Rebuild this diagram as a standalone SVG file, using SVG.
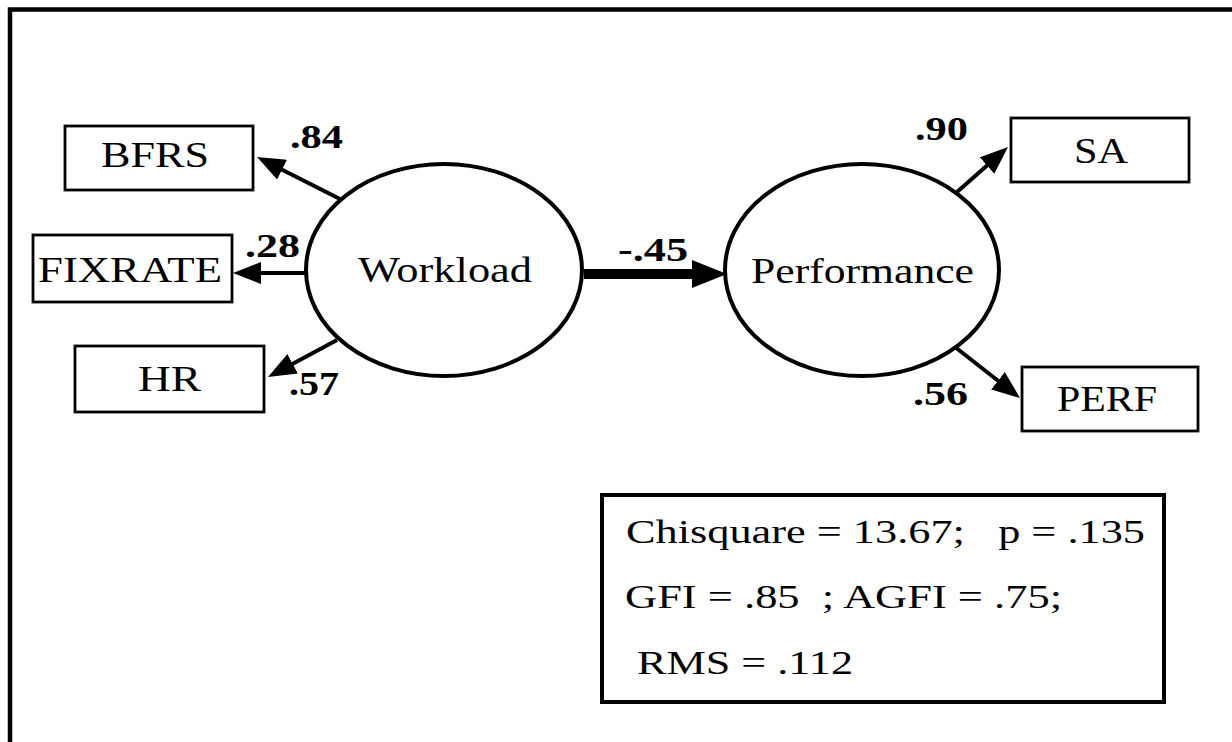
<svg xmlns="http://www.w3.org/2000/svg" width="1232" height="742" viewBox="0 0 1232 742">
<style>
  .bg{fill:#ffffff}
  .frame{fill:none;stroke:#000;stroke-width:4.5}
  .box{fill:#fff;stroke:#000;stroke-width:2.8}
  .stat{fill:#fff;stroke:#000;stroke-width:4}
  .lat{fill:#fff;stroke:#000;stroke-width:4}
  .t{font-family:"Liberation Serif","Times New Roman",serif;font-size:35px;fill:#000;white-space:pre}
  .w{font-family:"Liberation Serif","Times New Roman",serif;font-size:34px;font-weight:bold;fill:#000}
  .s{font-family:"Liberation Serif","Times New Roman",serif;font-size:34px;fill:#000;white-space:pre}
  .edge{stroke:#000;stroke-width:4;fill:none;marker-end:url(#ah)}
  .main{stroke:#000;stroke-width:10;fill:none;marker-end:url(#ahBig)}
</style>
<defs>
  <marker id="ah" markerUnits="userSpaceOnUse" markerWidth="28" markerHeight="22" refX="22" refY="11" orient="auto">
    <path d="M0,0 L28,11 L0,22 z" fill="#000"/>
  </marker>
  <marker id="ahBig" markerUnits="userSpaceOnUse" markerWidth="35" markerHeight="28" refX="21" refY="14" orient="auto">
    <path d="M0,0 L35,14 L0,28 z" fill="#000"/>
  </marker>
</defs>
<rect class="bg" x="0" y="0" width="1232" height="742"/>
<path class="frame" d="M10,742 V9.5 H1232"/>

<g id="connectors">
  <line class="edge" x1="340" y1="199" x2="262.4" y2="159.7"/>
  <line class="edge" x1="308" y1="273" x2="239" y2="273"/>
  <line class="edge" x1="337" y1="340" x2="273.3" y2="374.2"/>
  <line class="main" x1="584" y1="274" x2="713" y2="274"/>
  <line class="edge" x1="957" y1="192" x2="1003.5" y2="151"/>
  <line class="edge" x1="955" y1="347" x2="1015.3" y2="394.3"/>
  <text class="w" x="290" y="148" textLength="53" lengthAdjust="spacingAndGlyphs">.84</text>
  <text class="w" x="245" y="257" textLength="55" lengthAdjust="spacingAndGlyphs">.28</text>
  <text class="w" x="289" y="395" textLength="50" lengthAdjust="spacingAndGlyphs">.57</text>
  <text class="w" x="618" y="261" textLength="70" lengthAdjust="spacingAndGlyphs">-.45</text>
  <text class="w" x="915" y="140" textLength="53" lengthAdjust="spacingAndGlyphs">.90</text>
  <text class="w" x="913" y="405" textLength="55" lengthAdjust="spacingAndGlyphs">.56</text>
</g>

<g id="node-bfrs">
  <rect class="box" x="65" y="126" width="188" height="64"/>
  <text class="t" x="101" y="167" textLength="108" lengthAdjust="spacingAndGlyphs">BFRS</text>
</g>
<g id="node-fixrate">
  <rect class="box" x="33" y="235" width="199" height="67"/>
  <text class="t" x="38" y="282" textLength="184" lengthAdjust="spacingAndGlyphs">FIXRATE</text>
</g>
<g id="node-hr">
  <rect class="box" x="75" y="346" width="189" height="66"/>
  <text class="t" x="138" y="391" textLength="63" lengthAdjust="spacingAndGlyphs">HR</text>
</g>
<g id="node-workload">
  <ellipse class="lat" cx="444" cy="270" rx="138" ry="106"/>
  <text class="t" x="358" y="282" textLength="174" lengthAdjust="spacingAndGlyphs">Workload</text>
</g>
<g id="node-performance">
  <ellipse class="lat" cx="862" cy="270" rx="137" ry="106"/>
  <text class="t" x="751" y="283" textLength="223" lengthAdjust="spacingAndGlyphs">Performance</text>
</g>
<g id="node-sa">
  <rect class="box" x="1011" y="118" width="178" height="64"/>
  <text class="t" x="1074" y="163" textLength="54" lengthAdjust="spacingAndGlyphs">SA</text>
</g>
<g id="node-perf">
  <rect class="box" x="1022" y="367" width="176" height="64"/>
  <text class="t" x="1057" y="411" textLength="100" lengthAdjust="spacingAndGlyphs">PERF</text>
</g>
<g id="fit-stats">
  <rect class="stat" x="602" y="495" width="562" height="207"/>
  <text class="s" x="626" y="543" textLength="519" lengthAdjust="spacingAndGlyphs">Chisquare = 13.67;   p = .135</text>
  <text class="s" x="625" y="608" textLength="437" lengthAdjust="spacingAndGlyphs">GFI = .85  ; AGFI = .75;</text>
  <text class="s" x="637" y="674" textLength="216" lengthAdjust="spacingAndGlyphs">RMS = .112</text>
</g>
</svg>
